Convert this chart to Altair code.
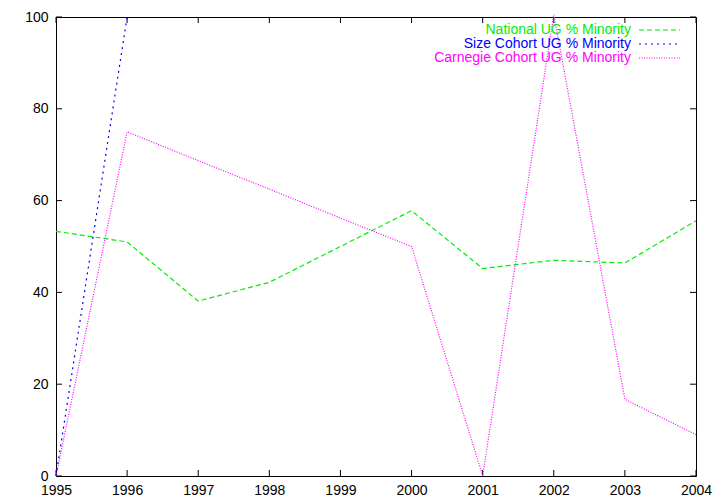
import altair as alt
import pandas as pd

years = [1995, 1996, 1997, 1998, 1999, 2000, 2001, 2002, 2003, 2004]
national = [53.3, 51.0, 38.1, 42.2, 50.0, 57.8, 45.2, 47.0, 46.4, 55.6]
size_years = [1995, 1996]
size_cohort = [0.0, 100.0]
carnegie = [0.0, 75.0, 68.7, 62.5, 56.2, 50.0, 0.0, 100.5, 16.7, 9.0]

series_names = ["National UG % Minority", "Size Cohort UG % Minority", "Carnegie Cohort UG % Minority"]
series_colors = ["#00ee00", "#0000ff", "#ff00ff"]
series_dash = [[5, 3], [2, 4], [1, 1.5]]
y_ticks = [0, 20, 40, 60, 80, 100]

W, H = 640, 459
FS = 14

rows = []
for y, v in zip(years, national):
    rows.append({"year": y, "value": v, "series": series_names[0]})
for y, v in zip(size_years, size_cohort):
    rows.append({"year": y, "value": v, "series": series_names[1]})
for y, v in zip(years, carnegie):
    rows.append({"year": y, "value": v, "series": series_names[2]})
df = pd.DataFrame(rows)

xscale = alt.Scale(domain=[1995, 2004], nice=False, zero=False)
yscale = alt.Scale(domain=[0, 100], nice=False)

base_x_axis = alt.Axis(values=years, format="d", ticks=False, domain=False, grid=False,
                       labelFont="Liberation Sans", labelFontSize=FS, labelColor="black",
                       labelPadding=7, title=None, labelFlush=False)
base_y_axis = alt.Axis(values=y_ticks, ticks=False, domain=False, grid=False,
                       labelFont="Liberation Sans", labelFontSize=FS, labelColor="black",
                       labelPadding=8, title=None, labelFlush=False)

layers = []
for name, col, dash in zip(series_names, series_colors, series_dash):
    sub = df[df.series == name]
    layers.append(
        alt.Chart(sub).mark_line(color=col, strokeDash=dash, strokeWidth=1.2, clip=False).encode(
            x=alt.X("year:Q", scale=xscale, axis=base_x_axis),
            y=alt.Y("value:Q", scale=yscale, axis=base_y_axis),
        )
    )

xt = pd.DataFrame({"year": years})
yt = pd.DataFrame({"v": y_ticks})
tick_col = "black"
ticks = [
    alt.Chart(xt).mark_rule(color=tick_col).encode(x=alt.X("year:Q", scale=xscale), y=alt.value(H), y2=alt.value(H - 6)),
    alt.Chart(xt).mark_rule(color=tick_col).encode(x=alt.X("year:Q", scale=xscale), y=alt.value(0), y2=alt.value(6)),
    alt.Chart(yt).mark_rule(color=tick_col).encode(y=alt.Y("v:Q", scale=yscale), x=alt.value(0), x2=alt.value(6)),
    alt.Chart(yt).mark_rule(color=tick_col).encode(y=alt.Y("v:Q", scale=yscale), x=alt.value(W), x2=alt.value(W - 6)),
]

legend_layers = []
for i, (name, col, dash) in enumerate(zip(series_names, series_colors, series_dash)):
    ld = pd.DataFrame({"label": [name]})
    ypix = 13 + 14 * i
    legend_layers.append(
        alt.Chart(ld).mark_text(align="right", baseline="middle", font="Liberation Sans",
                                fontSize=FS, color=col).encode(
            text="label:N", x=alt.value(575), y=alt.value(ypix))
    )
    legend_layers.append(
        alt.Chart(ld).mark_rule(color=col, strokeDash=dash, strokeWidth=1.2).encode(
            x=alt.value(583), x2=alt.value(624), y=alt.value(ypix))
    )

chart = alt.layer(*ticks, *layers, *legend_layers).properties(
    width=W, height=H,
    padding={"left": 48, "top": 9, "right": 16, "bottom": 20},
    autosize=alt.AutoSizeParams(type="none"),
    background="white",
).configure_view(stroke="black", strokeWidth=1)

chart.save("out.html", embed_options={"renderer": "svg", "actions": False})
